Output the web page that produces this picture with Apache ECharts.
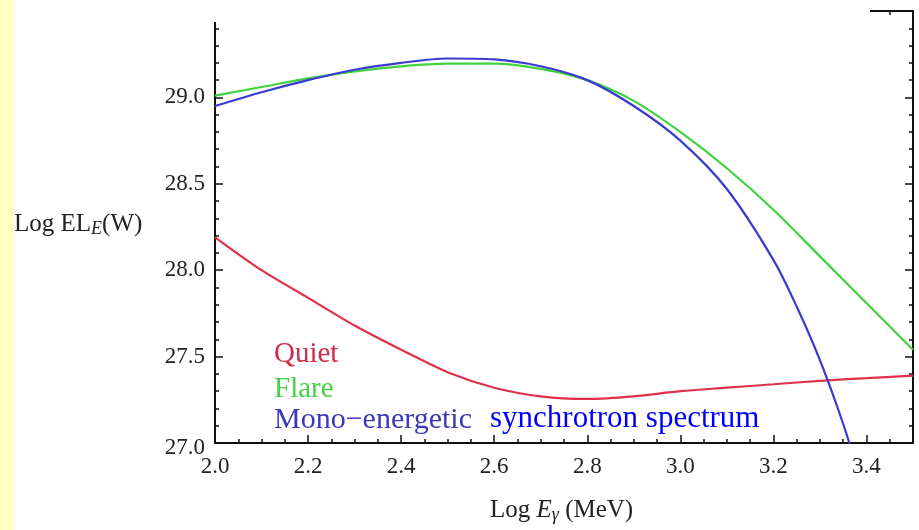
<!DOCTYPE html>
<html><head><meta charset="utf-8">
<script src="https://cdn.jsdelivr.net/npm/echarts@6/dist/echarts.min.js"></script>
<style>html,body{margin:0;padding:0;background:#fff}#c{width:919px;height:530px}</style>
</head><body><div id="c"></div>
<script>
// x positions: Log E_gamma (MeV)
const xQuiet = [2.0,2.1,2.2,2.3,2.4,2.5,2.6,2.7,2.8,2.9,3.0,3.1,3.2,3.3,3.4,3.5];
const quiet  = [28.19,28.00,27.84,27.68,27.54,27.41,27.32,27.27,27.255,27.27,27.30,27.32,27.34,27.36,27.375,27.39];
const xFlare = [2.0,2.1,2.2,2.3,2.4,2.5,2.6,2.7,2.8,2.9,3.0,3.1,3.2,3.3,3.4,3.5];
const flare  = [29.01,29.06,29.11,29.15,29.18,29.195,29.195,29.165,29.10,28.98,28.80,28.59,28.35,28.08,27.81,27.54];
const xMono  = [2.0,2.1,2.2,2.3,2.4,2.5,2.6,2.7,2.8,2.9,3.0,3.1,3.2,3.25,3.3,3.35,3.4];
const mono   = [28.95,29.03,29.10,29.16,29.20,29.225,29.22,29.18,29.10,28.95,28.75,28.47,28.06,27.79,27.48,27.11,26.68];
const yTicks = [27.0,27.5,28.0,28.5,29.0];
const xTicks = [2.0,2.2,2.4,2.6,2.8,3.0,3.2,3.4];

const pairs = (xs, ys) => xs.map((x, i) => [x, ys[i]]);
const serif = '"Liberation Serif", "DejaVu Serif", serif';
const chart = echarts.init(document.getElementById('c'));
const tickStyle = {color:'#111', width:1.5};
const axisLineStyle = {color:'#111', width:2};
chart.setOption({
  backgroundColor:'#fff',
  animation:false,
  grid:{left:215, right:6, top:11, bottom:87},
  xAxis:[{
    type:'value', min:2.0, max:3.5, interval:0.2,
    axisLine:{show:true, onZero:false, lineStyle:axisLineStyle},
    axisTick:{show:true, inside:true, length:8, lineStyle:tickStyle},
    minorTick:{show:true, splitNumber:4, length:4, lineStyle:tickStyle},
    splitLine:{show:false},
    axisLabel:{showMaxLabel:false, margin:12, fontFamily:serif, fontSize:23, color:'#222',
      formatter:v => xTicks.includes(Math.round(v*10)/10) ? v.toFixed(1) : ''}
  },{
    type:'value', position:'top', min:2.0, max:3.5, interval:0.2,
    axisLine:{show:true, onZero:false, lineStyle:axisLineStyle},
    axisTick:{show:true, inside:true, length:8, lineStyle:tickStyle},
    minorTick:{show:true, splitNumber:4, length:4, lineStyle:tickStyle},
    splitLine:{show:false}, axisLabel:{show:false}
  }],
  yAxis:[{
    type:'value', min:27.0, max:29.5, interval:0.5,
    axisLine:{show:true, onZero:false, lineStyle:axisLineStyle},
    axisTick:{show:true, inside:true, length:8, lineStyle:tickStyle},
    minorTick:{show:true, splitNumber:5, length:4, lineStyle:tickStyle},
    splitLine:{show:false},
    axisLabel:{showMaxLabel:false, margin:10, fontFamily:serif, fontSize:23, color:'#222',
      formatter:v => {
        const r = Math.round(v*10)/10;
        if (!yTicks.includes(r)) return '';
        return r === 27.0 ? '{low|' + v.toFixed(1) + '}' : v.toFixed(1);
      },
      rich:{low:{fontFamily:serif, fontSize:23, color:'#222', padding:[10,0,0,0]}}}
  },{
    type:'value', position:'right', min:27.0, max:29.5, interval:0.5,
    axisLine:{show:true, onZero:false, lineStyle:axisLineStyle},
    axisTick:{show:true, inside:true, length:8, lineStyle:tickStyle},
    minorTick:{show:true, splitNumber:5, length:4, lineStyle:tickStyle},
    splitLine:{show:false}, axisLabel:{show:false}
  }],
  series:[
    {name:'Quiet', type:'line', data:pairs(xQuiet, quiet), smooth:0.3, showSymbol:false, clip:true,
     lineStyle:{color:'#e0304a', width:2.2}, z:3},
    {name:'Flare', type:'line', data:pairs(xFlare, flare), smooth:0.3, showSymbol:false, clip:true,
     lineStyle:{color:'#3fd23f', width:2.2}, z:3},
    {name:'Mono', type:'line', data:pairs(xMono, mono), smooth:0.3, showSymbol:false, clip:true,
     lineStyle:{color:'#3a3ad0', width:2.2}, z:4}
  ],
  graphic:[
    {type:'rect', left:0, top:0, shape:{width:14, height:530}, style:{fill:'#ffffc4'}, z:10},
    {type:'rect', left:14, top:0, shape:{width:856, height:22}, style:{fill:'#ffffff'}, z:10},
    {type:'text', left:14, top:212, z:10, style:{
      text:'{a|Log EL}{s|E}{a|(W)}',
      rich:{a:{fontFamily:serif, fontSize:25, fill:'#222'}, s:{fontFamily:serif, fontSize:18, fontStyle:'italic', fill:'#222', padding:[10,0,0,0]}}
    }},
    {type:'text', left:490, top:498, z:10, style:{
      text:'{a|Log }{i|E}{s|γ}{a| (MeV)}',
      rich:{a:{fontFamily:serif, fontSize:25, fill:'#222'}, i:{fontFamily:serif, fontSize:25, fontStyle:'italic', fill:'#222'}, s:{fontFamily:serif, fontSize:18, fontStyle:'italic', fill:'#222', padding:[10,0,0,0]}}
    }},
    {type:'text', left:274, top:340, z:10, style:{text:'Quiet', font:'29px ' + serif, fill:'#d02a48'}},
    {type:'text', left:274, top:375, z:10, style:{text:'Flare', font:'29px ' + serif, fill:'#44d444'}},
    {type:'text', left:274, top:405, z:10, style:{text:'Mono\u2212energetic', font:'30px ' + serif, fill:'#3a3ab8'}},
    {type:'text', left:490, top:403, z:10, style:{text:'synchrotron spectrum', font:'31px ' + serif, fill:'#0000ff'}}
  ]
});
</script></body></html>
